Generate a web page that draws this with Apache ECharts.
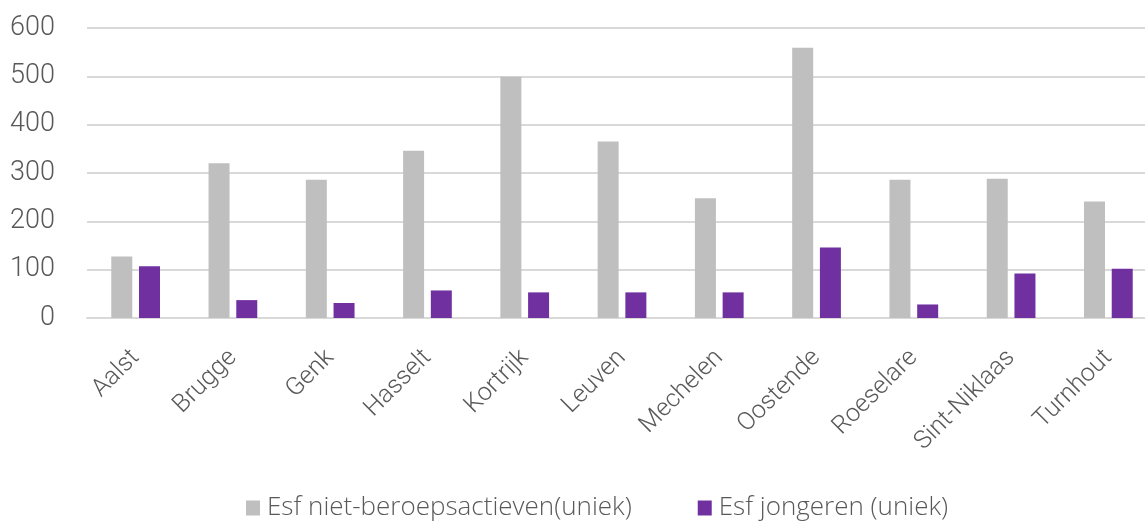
<!DOCTYPE html>
<html>
<head>
<meta charset="utf-8">
<script src="https://cdn.jsdelivr.net/npm/echarts@6/dist/echarts.min.js"></script>
<style>
html,body{margin:0;padding:0;background:#fff;overflow:hidden;width:1145px;height:522px;}
#chart{width:1160px;height:522px;}
</style>
</head>
<body>
<div id="chart"></div>
<script>
const categories = ['Aalst','Brugge','Genk','Hasselt','Kortrijk','Leuven','Mechelen','Oostende','Roeselare','Sint-Niklaas','Turnhout'];
const nietBeroepsactieven = [127, 320, 286, 346, 499, 365, 248, 559, 286, 288, 241];
const jongeren = [107, 37, 31, 57, 53, 53, 53, 146, 28, 92, 102];
const seriesNames = ['Esf niet-beroepsactieven(uniek)', 'Esf jongeren (uniek)'];
const yTicks = {min: 0, max: 600, interval: 100};

const font = 'Roboto';
const chart = echarts.init(document.getElementById('chart'), null, {renderer: 'canvas'});
chart.setOption({
  animation: false,
  backgroundColor: '#ffffff',
  textStyle: {fontFamily: font},
  grid: {left: 87, top: 28, width: 1070, height: 290, containLabel: false},
  legend: {
    top: 490,
    left: 241,
    itemWidth: 14,
    itemHeight: 15,
    itemGap: 66,
    icon: 'rect',
    textStyle: {fontFamily: 'Open Sans', fontWeight: 300, fontSize: 26, color: '#595959', padding: [0,0,0,2]},
    data: seriesNames
  },
  xAxis: {
    type: 'category',
    data: categories,
    axisLine: {show: true, lineStyle: {color: '#d9d9d9', width: 2}},
    axisTick: {show: false},
    axisLabel: {rotate: 45, interval: 0, margin: 36, fontFamily: font, fontWeight: 300, fontSize: 25, color: '#595959'}
  },
  yAxis: {
    type: 'value',
    min: yTicks.min, max: yTicks.max, interval: yTicks.interval,
    axisLine: {show: false},
    axisTick: {show: false},
    splitLine: {lineStyle: {color: '#d9d9d9', width: 2}},
    axisLabel: {margin: 32, fontFamily: font, fontWeight: 300, fontSize: 27, color: '#595959'}
  },
  series: [
    {name: seriesNames[0], type: 'bar', data: nietBeroepsactieven, barWidth: 21, barGap: '32%',
     itemStyle: {color: '#bfbfbf'}},
    {name: seriesNames[1], type: 'bar', data: jongeren, barWidth: 21,
     itemStyle: {color: '#7030a0'}}
  ]
});
</script>
</body>
</html>
